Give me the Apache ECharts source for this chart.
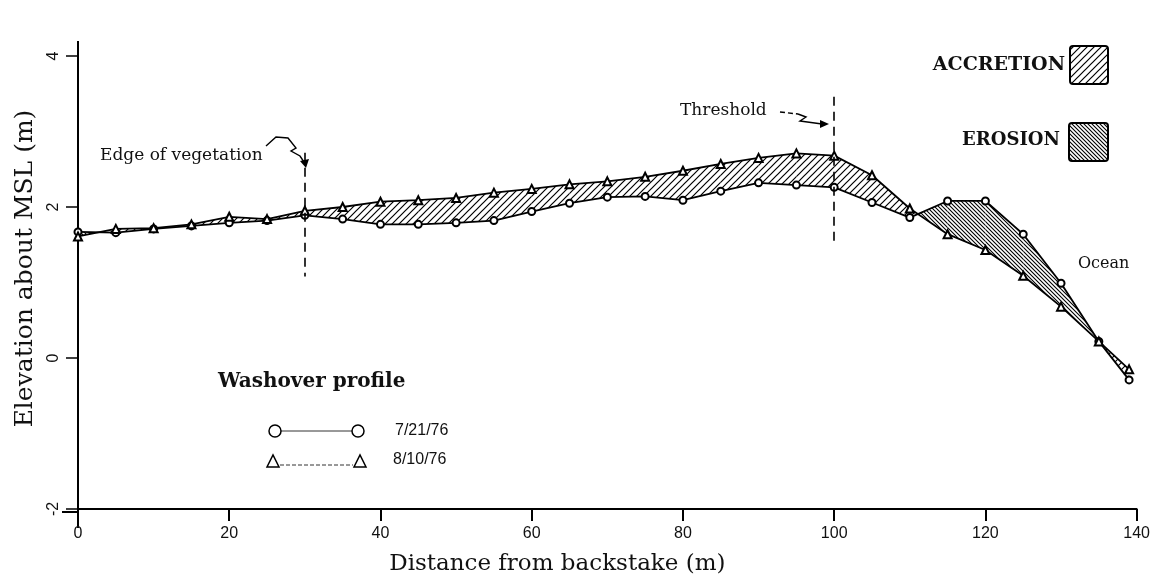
<!DOCTYPE html>
<html>
<head>
<meta charset="utf-8">
<script src="https://cdn.jsdelivr.net/npm/echarts@6/dist/echarts.min.js"></script>
<style>
html, body { margin: 0; padding: 0; background: #fff; }
#chart { width: 1153px; height: 581px; }
</style>
</head>
<body>
<div id="chart"></div>
<script>
// stations along the profile (m from backstake)
var distance = [0, 5, 10, 15, 20, 25, 30, 35, 40, 45, 50, 55, 60, 65, 70, 75, 80, 85, 90, 95, 100, 105, 110, 115, 120, 125, 130, 135, 139];
// elevation about MSL (m)
var profile0721 = [1.67, 1.66, 1.71, 1.75, 1.79, 1.82, 1.89, 1.84, 1.77, 1.77, 1.79, 1.82, 1.94, 2.05, 2.13, 2.14, 2.09, 2.21, 2.32, 2.29, 2.26, 2.06, 1.86, 2.08, 2.08, 1.64, 0.99, 0.22, -0.29];
var profile0810 = [1.61, 1.71, 1.72, 1.77, 1.87, 1.84, 1.95, 2.00, 2.07, 2.09, 2.12, 2.19, 2.24, 2.30, 2.34, 2.40, 2.48, 2.57, 2.65, 2.71, 2.68, 2.42, 1.98, 1.64, 1.43, 1.09, 0.68, 0.22, -0.15];
// dashed markers: [x, yTop, yBottom]
var vegetationEdge = [30, 2.72, 1.08];
var thresholdLine = [100, 3.46, 1.51];

var SERIF = 'DejaVu Serif';
var SANS = 'Liberation Sans';

/**
 * 斜线填充图案
 */
function makeHatch(size, dir, width) {
    var c = document.createElement('canvas');
    c.width = size;
    c.height = size;
    var ctx = c.getContext('2d');
    ctx.fillStyle = '#fff';
    ctx.fillRect(0, 0, size, size);
    ctx.strokeStyle = '#000';
    ctx.lineWidth = width;
    ctx.beginPath();
    if (dir > 0) {
        ctx.moveTo(0, size); ctx.lineTo(size, 0);
        ctx.moveTo(-2, 2); ctx.lineTo(2, -2);
        ctx.moveTo(size - 2, size + 2); ctx.lineTo(size + 2, size - 2);
    } else {
        ctx.moveTo(0, 0); ctx.lineTo(size, size);
        ctx.moveTo(size - 2, -2); ctx.lineTo(size + 2, 2);
        ctx.moveTo(-2, size - 2); ctx.lineTo(2, size + 2);
    }
    ctx.stroke();
    return c;
}
var accretionFill = { image: makeHatch(7, 1, 1.2), repeat: 'repeat' };
var erosionFill = { image: makeHatch(4, -1, 1.1), repeat: 'repeat' };

var pts0721 = [], pts0810 = [], bands = [];
for (var i = 0; i < distance.length; i++) {
    pts0721.push([distance[i], profile0721[i]]);
    pts0810.push([distance[i], profile0810[i]]);
    if (i < distance.length - 1) {
        bands.push([distance[i], distance[i + 1], profile0721[i], profile0721[i + 1], profile0810[i], profile0810[i + 1]]);
    }
}

// 两次剖面之间的填充：淤积 / 侵蚀
function renderBand(params, api) {
    var x0 = api.value(0), x1 = api.value(1);
    var c0 = api.value(2), c1 = api.value(3);
    var t0 = api.value(4), t1 = api.value(5);
    var d0 = t0 - c0, d1 = t1 - c1;
    var poly = function(list, d) {
        return {
            type : 'polygon',
            shape : { points : list.map(function(p) { return api.coord(p); }) },
            style : { fill : d >= 0 ? accretionFill : erosionFill, stroke : null }
        };
    };
    var children = [];
    if (d0 * d1 < 0) {
        var f = d0 / (d0 - d1);
        var xm = x0 + f * (x1 - x0), ym = c0 + f * (c1 - c0);
        children.push(poly([[x0, c0], [xm, ym], [x0, t0]], d0));
        children.push(poly([[xm, ym], [x1, c1], [x1, t1]], d1));
    } else {
        children.push(poly([[x0, c0], [x1, c1], [x1, t1], [x0, t0]], d0 + d1));
    }
    return { type : 'group', children : children };
}

var dashStyle = { color : '#000', width : 1.6, type : [9, 6] };

var option = {
    backgroundColor : '#fff',
    animation : false,
    grid : { left : 78, right : 11, top : 56, bottom : 69 },
    xAxis : {
        type : 'value',
        min : 0,
        max : 140,
        interval : 20,
        name : 'Distance from backstake (m)',
        nameLocation : 'middle',
        nameGap : 44,
        nameTextStyle : { fontFamily : SERIF, fontSize : 23, color : '#111', padding : [0, 100, 0, 0] },
        axisLine : { onZero : false, lineStyle : { color : '#000', width : 2 } },
        axisTick : { show : true, inside : false, length : 12, lineStyle : { color : '#000', width : 2 } },
        axisLabel : { margin : 17, fontFamily : SANS, fontSize : 16, color : '#111' },
        splitLine : { show : false }
    },
    yAxis : {
        type : 'value',
        min : -2,
        max : 4,
        interval : 2,
        name : 'Elevation about MSL (m)',
        nameLocation : 'middle',
        nameGap : 40,
        nameTextStyle : { fontFamily : SERIF, fontSize : 25, color : '#111', padding : [0, 0, 0, 28] },
        axisLine : { onZero : false, lineStyle : { color : '#000', width : 2 } },
        axisTick : { show : true, length : 12, lineStyle : { color : '#000', width : 1.5 } },
        axisLabel : { margin : 16, rotate : 90, fontFamily : SANS, fontSize : 16, color : '#111' },
        splitLine : { show : false }
    },
    series : [ {
        name : 'bands',
        type : 'custom',
        renderItem : renderBand,
        data : bands,
        encode : { x : [0, 1], y : [2, 3, 4, 5] },
        z : 1,
        silent : true
    }, {
        name : '7/21/76',
        type : 'line',
        data : pts0721,
        symbol : 'emptyCircle',
        symbolSize : 7,
        lineStyle : { color : '#000', width : 1.8 },
        itemStyle : { color : '#000', borderWidth : 1.5 },
        z : 3,
        markLine : {
            silent : true,
            symbol : 'none',
            label : { show : false },
            lineStyle : dashStyle,
            data : [
                [ { coord : [vegetationEdge[0], vegetationEdge[1]] }, { coord : [vegetationEdge[0], vegetationEdge[2]] } ],
                [ { coord : [thresholdLine[0], thresholdLine[1]] }, { coord : [thresholdLine[0], thresholdLine[2]] } ]
            ]
        }
    }, {
        name : '8/10/76',
        type : 'line',
        data : pts0810,
        symbol : 'emptyTriangle',
        symbolSize : 8,
        lineStyle : { color : '#000', width : 1.8 },
        itemStyle : { color : '#000', borderWidth : 1.5 },
        z : 4
    } ],
    graphic : [
        // axis overhangs
        { type : 'line', shape : { x1 : 78, y1 : 41, x2 : 78, y2 : 56 }, style : { stroke : '#000', lineWidth : 2 } },
        { type : 'line', shape : { x1 : 78, y1 : 512, x2 : 78, y2 : 528 }, style : { stroke : '#000', lineWidth : 2 } },
        { type : 'line', shape : { x1 : 62, y1 : 512, x2 : 78, y2 : 512 }, style : { stroke : '#000', lineWidth : 2 } },
        // annotations
        { type : 'text', left : 100, top : 147, style : { text : 'Edge of vegetation', font : '17px "DejaVu Serif"', fill : '#111' } },
        { type : 'polyline', shape : { points : [[266, 146], [276, 137], [288, 138], [296, 148], [291, 151], [300, 156], [304, 162]] },
          style : { stroke : '#000', lineWidth : 1.4, fill : null } },
        { type : 'polygon', shape : { points : [[300, 161], [309, 159], [306, 168]] }, style : { fill : '#000' } },
        { type : 'text', left : 680, top : 102, style : { text : 'Threshold', font : '17px "DejaVu Serif"', fill : '#111' } },
        { type : 'polyline', shape : { points : [[780, 112], [798, 114]] },
          style : { stroke : '#000', lineWidth : 1.4, fill : null, lineDash : [5, 3] } },
        { type : 'polyline', shape : { points : [[798, 114], [806, 117], [800, 121], [822, 124]] },
          style : { stroke : '#000', lineWidth : 1.4, fill : null } },
        { type : 'polygon', shape : { points : [[820, 120], [829, 124], [820, 128]] }, style : { fill : '#000' } },
        { type : 'text', left : 1078, top : 256, style : { text : 'Ocean', font : '16px "DejaVu Serif"', fill : '#111' } },
        // hatch key
        { type : 'text', right : 88, top : 56, style : { text : 'ACCRETION', font : 'bold 19px "DejaVu Serif"', fill : '#111' } },
        { type : 'rect', shape : { x : 1070, y : 46, width : 38, height : 38, r : 3 }, style : { fill : accretionFill, stroke : '#000', lineWidth : 2 } },
        { type : 'text', right : 93, top : 131, style : { text : 'EROSION', font : 'bold 18px "DejaVu Serif"', fill : '#111' } },
        { type : 'rect', shape : { x : 1069, y : 123, width : 39, height : 38, r : 3 }, style : { fill : erosionFill, stroke : '#000', lineWidth : 2 } },
        // profile key
        { type : 'text', left : 218, top : 372, style : { text : 'Washover profile', font : 'bold 20px "DejaVu Serif"', fill : '#111' } },
        { type : 'line', shape : { x1 : 281, y1 : 431, x2 : 352, y2 : 431 }, style : { stroke : '#333', lineWidth : 1 } },
        { type : 'circle', shape : { cx : 275, cy : 431, r : 6 }, style : { fill : '#fff', stroke : '#000', lineWidth : 1.5 } },
        { type : 'circle', shape : { cx : 358, cy : 431, r : 6 }, style : { fill : '#fff', stroke : '#000', lineWidth : 1.5 } },
        { type : 'text', left : 395, top : 423, style : { text : '7/21/76', font : '16px "Liberation Sans"', fill : '#111' } },
        { type : 'line', shape : { x1 : 280, y1 : 465, x2 : 353, y2 : 465 }, style : { stroke : '#333', lineWidth : 1, lineDash : [4, 2] } },
        { type : 'polygon', shape : { points : [[267, 467], [279, 467], [273, 455]] }, style : { fill : '#fff', stroke : '#000', lineWidth : 1.5 } },
        { type : 'polygon', shape : { points : [[354, 467], [366, 467], [360, 455]] }, style : { fill : '#fff', stroke : '#000', lineWidth : 1.5 } },
        { type : 'text', left : 393, top : 452, style : { text : '8/10/76', font : '16px "Liberation Sans"', fill : '#111' } }
    ]
};

var chart = echarts.init(document.getElementById('chart'));
chart.setOption(option);
</script>
</body>
</html>
